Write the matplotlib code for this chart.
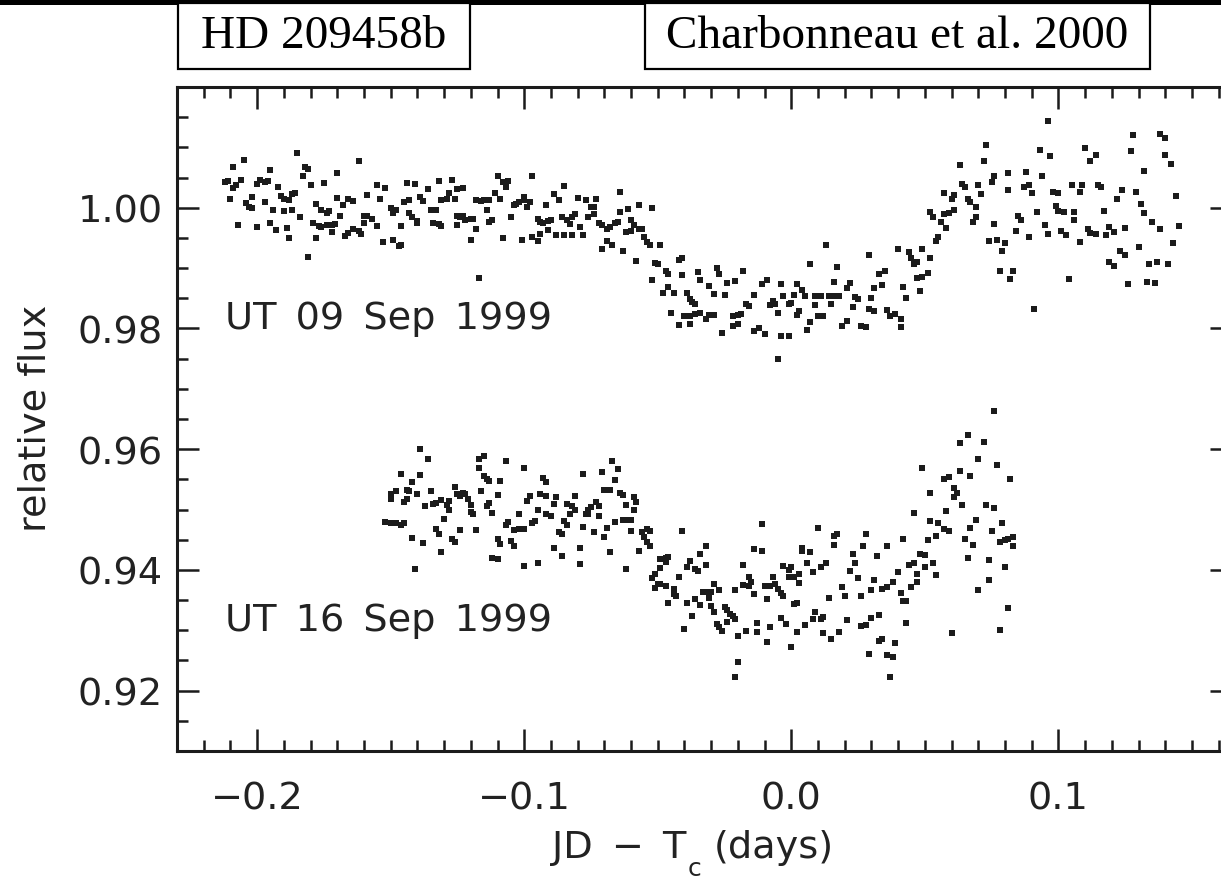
import matplotlib
matplotlib.use("Agg")
import matplotlib.pyplot as plt
from matplotlib.patches import Rectangle
from matplotlib.ticker import MultipleLocator, FuncFormatter

W, H, DPI = 1221, 879, 100
INK = "#1b1b1b"
plt.rcParams["font.family"] = ["DejaVu Sans"]

# Transit light curve of HD 209458, night of UT 09 Sep 1999
sep09_t = [
    -0.185, -0.205, -0.209, -0.162, -0.195, -0.182, -0.181, -0.170, -0.183, -0.212,
    -0.211, -0.206, -0.208, -0.209, -0.200, -0.199, -0.197, -0.196, -0.192, -0.186,
    -0.180, -0.175, -0.210, -0.204, -0.203, -0.202, -0.202, -0.197, -0.191, -0.190,
    -0.188, -0.187, -0.194, -0.190, -0.187, -0.184, -0.178, -0.176, -0.174, -0.173,
    -0.170, -0.168, -0.166, -0.164, -0.169, -0.159, -0.154, -0.155, -0.152, -0.144,
    -0.141, -0.136, -0.132, -0.127, -0.128, -0.125, -0.131, -0.129, -0.126, -0.139,
    -0.138, -0.145, -0.143, -0.150, -0.148, -0.149, -0.135, -0.133, -0.143, -0.142,
    -0.140, -0.140, -0.207, -0.200, -0.195, -0.193, -0.189, -0.188, -0.179, -0.177,
    -0.176, -0.174, -0.172, -0.171, -0.172, -0.178, -0.167, -0.166, -0.164, -0.162,
    -0.161, -0.160, -0.159, -0.157, -0.160, -0.155, -0.146, -0.153, -0.149, -0.147,
    -0.146, -0.181, -0.134, -0.132, -0.131, -0.125, -0.125,
    -0.123, -0.124, -0.123, -0.122, -0.120, -0.119, -0.118, -0.120, -0.117, -0.118,
    -0.116, -0.115, -0.114, -0.113, -0.111, -0.109, -0.110, -0.108, -0.107, -0.106,
    -0.113, -0.112, -0.108, -0.105, -0.104, -0.103, -0.102, -0.100, -0.100, -0.099,
    -0.098, -0.097, -0.092, -0.095, -0.094, -0.093, -0.091, -0.090, -0.094, -0.091,
    -0.088, -0.101, -0.097, -0.095, -0.089, -0.087, -0.085, -0.086, -0.084, -0.083,
    -0.082, -0.081, -0.085, -0.082, -0.079, -0.078, -0.080, -0.077, -0.075, -0.074,
    -0.073, -0.076, -0.074, -0.072, -0.071, -0.069, -0.068, -0.066, -0.065, -0.064,
    -0.064, -0.061, -0.057, -0.052, -0.060, -0.059, -0.062, -0.060, -0.057, -0.056,
    -0.055, -0.054, -0.053, -0.069, -0.067, -0.071, -0.063, -0.058, -0.049, -0.051,
    -0.050, -0.047, -0.046, -0.052, -0.046, -0.048, -0.044, -0.042, -0.041, -0.041,
    -0.035, -0.034, -0.031, -0.039, -0.038, -0.037, -0.036, -0.045, -0.040, -0.038,
    -0.036, -0.034, -0.032, -0.042, -0.038,
    -0.028, -0.027, -0.024, -0.021, -0.018, -0.029, -0.025, -0.031, -0.029, -0.022,
    -0.020, -0.019, -0.016, -0.017, -0.014, -0.011, -0.009, -0.004, -0.003, -0.008,
    -0.007, -0.006, -0.005, -0.001, 0.000, 0.001, 0.002, 0.004, 0.005, 0.007,
    0.009, 0.011, 0.013, 0.014, 0.016, 0.017, 0.017, 0.018, 0.016, 0.021,
    0.022, 0.024, 0.025, 0.009, 0.015, 0.023, 0.003, 0.002, 0.007, 0.010,
    0.012, 0.006, -0.026, -0.022, -0.020, -0.014, -0.012, -0.010, -0.004, -0.001,
    0.019, 0.021, 0.026, 0.028, 0.029, 0.030, 0.031, 0.034, 0.033, 0.035,
    0.029, 0.031, 0.036, 0.037, 0.039, 0.041, 0.041, 0.040, 0.044, 0.045,
    0.046, 0.047, 0.042, 0.043, 0.048, 0.049, 0.052, 0.047, 0.049, 0.051,
    0.054, 0.055, 0.052, 0.053, 0.056, 0.058, 0.057, 0.057, 0.059, 0.060,
    -0.005,
    0.096, 0.073, 0.063, 0.072, 0.093, 0.097, 0.110, 0.114, 0.112, 0.128,
    0.127, 0.138, 0.140, 0.140, 0.142, 0.132, 0.076, 0.075, 0.081, 0.088,
    0.094, 0.064, 0.065, 0.070, 0.061, 0.071, 0.081, 0.087, 0.089, 0.090,
    0.098, 0.100, 0.105, 0.108, 0.109, 0.115, 0.116, 0.124, 0.129, 0.122,
    0.144, 0.066, 0.067, 0.069, 0.061, 0.069, 0.068, 0.076, 0.085, 0.086,
    0.092, 0.099, 0.100, 0.102, 0.106, 0.106, 0.117, 0.131, 0.132, 0.135,
    0.138, 0.145, 0.095, 0.096, 0.084, 0.089, 0.101, 0.103, 0.111, 0.112,
    0.114, 0.118, 0.119, 0.121, 0.125, 0.074, 0.077, 0.080, 0.079, 0.108,
    0.123, 0.125, 0.130, 0.143, 0.119, 0.121, 0.134, 0.137, 0.141, 0.078,
    0.083, 0.082, 0.104, 0.126, 0.133, 0.136, 0.091,
]
sep09_f = [
    1.0091, 1.0079, 1.0068, 1.0077, 1.0062, 1.0068, 1.0064, 1.0057, 1.0052, 1.0042,
    1.0044, 1.0046, 1.0037, 1.0033, 1.0039, 1.0046, 1.0042, 1.0044, 1.0034, 1.0025,
    1.0037, 1.0041, 1.0015, 1.0008, 1.0002, 0.9999, 1.0017, 1.0010, 1.0020, 1.0015,
    1.0013, 1.0022, 0.9997, 0.9994, 0.9996, 0.9984, 1.0006, 0.9997, 0.9992, 0.9994,
    1.0016, 1.0004, 1.0014, 1.0011, 0.9986, 1.0021, 1.0014, 1.0037, 1.0033, 1.0041,
    1.0039, 1.0031, 1.0044, 1.0046, 1.0025, 1.0031, 1.0012, 1.0014, 1.0014, 1.0018,
    1.0011, 1.0010, 1.0012, 0.9999, 0.9996, 0.9992, 0.9996, 0.9996, 0.9991, 0.9985,
    0.9978, 0.9974, 0.9971, 0.9968, 0.9975, 0.9963, 0.9967, 0.9950, 0.9974, 0.9970,
    0.9968, 0.9971, 0.9972, 0.9973, 0.9960, 0.9950, 0.9953, 0.9958, 0.9964, 0.9961,
    0.9956, 0.9986, 0.9986, 0.9981, 0.9975, 0.9969, 0.9969, 0.9943, 0.9946, 0.9936,
    0.9939, 0.9919, 0.9975, 0.9973, 0.9970, 0.9986, 0.9971,
    1.0032, 0.9985, 0.9986, 0.9979, 0.9982, 0.9982, 0.9965, 0.9946, 0.9883, 1.0013,
    1.0011, 1.0013, 0.9997, 1.0013, 1.0024, 1.0015, 1.0052, 1.0043, 1.0034, 1.0045,
    0.9976, 0.9979, 0.9950, 0.9985, 1.0004, 1.0007, 1.0010, 1.0017, 1.0013, 1.0002,
    1.0010, 1.0052, 1.0005, 0.9982, 0.9976, 0.9975, 0.9978, 0.9979, 0.9957, 0.9963,
    0.9954, 0.9947, 0.9952, 0.9945, 1.0022, 1.0012, 1.0036, 0.9985, 0.9979, 0.9973,
    0.9985, 0.9989, 0.9954, 0.9954, 0.9968, 0.9955, 1.0016, 1.0013, 1.0001, 1.0001,
    1.0015, 0.9985, 0.9990, 0.9974, 0.9971, 0.9965, 0.9968, 0.9974, 0.9976, 1.0026,
    0.9993, 0.9998, 1.0004, 0.9999, 0.9979, 0.9971, 0.9960, 0.9961, 0.9965, 0.9965,
    0.9952, 0.9943, 0.9938, 0.9945, 0.9938, 0.9931, 0.9928, 0.9912, 0.9939, 0.9909,
    0.9907, 0.9896, 0.9891, 0.9881, 0.9869, 0.9859, 0.9858, 0.9914, 0.9917, 0.9888,
    0.9893, 0.9880, 0.9871, 0.9858, 0.9849, 0.9844, 0.9840, 0.9826, 0.9820, 0.9820,
    0.9824, 0.9826, 0.9816, 0.9805, 0.9807,
    0.9900, 0.9890, 0.9876, 0.9878, 0.9896, 0.9857, 0.9855, 0.9822, 0.9823, 0.9820,
    0.9823, 0.9824, 0.9837, 0.9840, 0.9855, 0.9874, 0.9881, 0.9874, 0.9853, 0.9839,
    0.9845, 0.9841, 0.9826, 0.9840, 0.9842, 0.9856, 0.9874, 0.9863, 0.9853, 0.9906,
    0.9854, 0.9853, 0.9939, 0.9853, 0.9853, 0.9901, 0.9853, 0.9853, 0.9877, 0.9867,
    0.9875, 0.9852, 0.9848, 0.9839, 0.9840, 0.9835, 0.9829, 0.9823, 0.9811, 0.9820,
    0.9820, 0.9797, 0.9793, 0.9804, 0.9808, 0.9796, 0.9801, 0.9791, 0.9787, 0.9787,
    0.9804, 0.9812, 0.9804, 0.9802, 0.9922, 0.9851, 0.9867, 0.9872, 0.9891, 0.9895,
    0.9833, 0.9829, 0.9831, 0.9820, 0.9824, 0.9816, 0.9803, 0.9932, 0.9927, 0.9917,
    0.9906, 0.9910, 0.9868, 0.9851, 0.9862, 0.9932, 0.9917, 0.9884, 0.9885, 0.9892,
    0.9945, 0.9951, 0.9993, 0.9984, 0.9977, 0.9966, 1.0024, 0.9990, 0.9991, 1.0014,
    0.9750,
    1.0143, 1.0104, 1.0070, 1.0077, 1.0095, 1.0085, 1.0099, 1.0087, 1.0078, 1.0121,
    1.0094, 1.0122, 1.0115, 1.0087, 1.0073, 1.0061, 1.0053, 1.0043, 1.0058, 1.0059,
    1.0053, 1.0040, 1.0034, 1.0037, 1.0021, 1.0023, 1.0030, 1.0035, 1.0038, 1.0024,
    1.0026, 1.0025, 1.0038, 1.0026, 1.0037, 1.0037, 1.0035, 1.0029, 1.0026, 1.0015,
    1.0020, 1.0014, 1.0010, 1.0002, 0.9997, 0.9984, 0.9976, 0.9973, 0.9987, 0.9980,
    0.9993, 1.0003, 0.9994, 0.9993, 0.9993, 0.9979, 0.9995, 1.0006, 0.9992, 0.9977,
    0.9964, 0.9970, 0.9972, 0.9957, 0.9962, 0.9951, 0.9962, 0.9955, 0.9964, 0.9958,
    0.9956, 0.9955, 0.9968, 0.9960, 0.9967, 0.9945, 0.9947, 0.9942, 0.9929, 0.9943,
    0.9929, 0.9922, 0.9935, 0.9941, 0.9910, 0.9903, 0.9907, 0.9910, 0.9907, 0.9896,
    0.9896, 0.9882, 0.9882, 0.9873, 0.9877, 0.9875, 0.9832,
]

# Same star, night of UT 16 Sep 1999 (offset downward for display)
sep16_t = [
    -0.139, -0.136, -0.146, -0.139, -0.142, -0.150, -0.150, -0.148, -0.144, -0.143,
    -0.144, -0.145, -0.140, -0.135, -0.137, -0.134, -0.133, -0.131, -0.129, -0.128,
    -0.128, -0.126, -0.125, -0.124, -0.123, -0.122, -0.121, -0.120, -0.120, -0.119,
    -0.130, -0.133, -0.132, -0.127, -0.126, -0.124, -0.118, -0.152, -0.150, -0.148,
    -0.146, -0.145, -0.142, -0.138, -0.131, -0.141, -0.117, -0.117, -0.115, -0.115,
    -0.114, -0.113, -0.116, -0.110, -0.109, -0.107, -0.100, -0.113, -0.114, -0.112,
    -0.110, -0.109, -0.107, -0.106, -0.105, -0.104, -0.104, -0.102, -0.100, -0.102,
    -0.112, -0.110, -0.100, -0.095, -0.099, -0.098, -0.097, -0.096, -0.094, -0.093,
    -0.092, -0.092, -0.095, -0.092, -0.090, -0.089, -0.088, -0.087, -0.086, -0.089,
    -0.086, -0.084, -0.082, -0.083, -0.081, -0.081, -0.085, -0.084, -0.079, -0.079,
    -0.078, -0.078, -0.077, -0.076,
    -0.071, -0.067, -0.065, -0.066, -0.070, -0.068, -0.064, -0.063, -0.075, -0.073,
    -0.072, -0.076, -0.072, -0.059, -0.058, -0.062, -0.059, -0.074, -0.070, -0.066,
    -0.063, -0.061, -0.060, -0.069, -0.060, -0.054, -0.053, -0.056, -0.055, -0.054,
    -0.053, -0.068, -0.057, -0.062, -0.041, -0.049, -0.047, -0.046, -0.047, -0.049,
    -0.051, -0.052, -0.050, -0.049, -0.047, -0.051, -0.044, -0.044, -0.043, -0.046,
    -0.042, -0.039, -0.038, -0.036, -0.035, -0.034, -0.032, -0.032, -0.011, -0.014,
    -0.011, -0.018, -0.016, -0.015, -0.018, -0.021, -0.016, -0.014, -0.010, -0.008,
    -0.007, -0.006, -0.005, -0.004, -0.003, -0.003, -0.001, -0.001, 0.001, 0.003,
    0.003, 0.004, -0.009, -0.039, -0.036, -0.034, -0.033, -0.031, -0.030, -0.031,
    -0.029, -0.027, -0.030, -0.029, -0.025, -0.024, -0.023, -0.022, -0.021, -0.024,
    -0.028, -0.027, -0.026, -0.037, -0.040, -0.020, -0.017, -0.013, -0.013, -0.009,
    -0.008, -0.004, -0.002, 0.001, 0.002, 0.002, 0.000, -0.020, -0.021,
    0.076, 0.066, 0.063, 0.072, 0.070, 0.049, 0.063, 0.067, 0.057, 0.059,
    0.077, 0.082, 0.061, 0.062, 0.061, 0.052, 0.064, 0.073, 0.076, 0.058,
    0.046, 0.069, 0.052, 0.055, 0.057, 0.059, 0.067, 0.079, 0.075, 0.010,
    0.016, 0.017, 0.016, 0.028, 0.027, 0.036, 0.042, 0.051, 0.054, 0.065,
    0.068, 0.078, 0.080, 0.081, 0.083, 0.083, 0.004, 0.007, 0.000, 0.006,
    0.008, 0.011, 0.013, 0.023, 0.024, 0.022, 0.025, 0.032, 0.048, 0.050,
    0.044, 0.046, 0.047, 0.050, 0.053, 0.054, 0.040, 0.066, 0.074, 0.080,
    0.074, 0.070, 0.019, 0.020, 0.026, 0.031, 0.030, 0.034, 0.036, 0.038,
    0.045, 0.047, 0.041, 0.042, 0.043, 0.014, 0.009, 0.008, 0.011, 0.012,
    0.005, 0.021, 0.026, 0.028, 0.030, 0.033, 0.043, 0.012, 0.015, 0.018,
    0.033, 0.034, 0.039, 0.029, 0.036, 0.038, 0.060, 0.078, 0.081, 0.037,
]
sep16_f = [
    0.9600, 0.9583, 0.9559, 0.9558, 0.9546, 0.9525, 0.9517, 0.9531, 0.9532, 0.9531,
    0.9517, 0.9513, 0.9526, 0.9530, 0.9506, 0.9510, 0.9511, 0.9515, 0.9508, 0.9500,
    0.9514, 0.9537, 0.9526, 0.9522, 0.9528, 0.9526, 0.9517, 0.9508, 0.9496, 0.9492,
    0.9485, 0.9467, 0.9460, 0.9451, 0.9447, 0.9466, 0.9466, 0.9480, 0.9478, 0.9477,
    0.9475, 0.9477, 0.9453, 0.9445, 0.9429, 0.9401, 0.9568, 0.9583, 0.9589, 0.9556,
    0.9550, 0.9547, 0.9531, 0.9524, 0.9548, 0.9581, 0.9568, 0.9511, 0.9506, 0.9495,
    0.9451, 0.9443, 0.9475, 0.9480, 0.9448, 0.9440, 0.9466, 0.9467, 0.9467, 0.9493,
    0.9419, 0.9418, 0.9406, 0.9412, 0.9514, 0.9522, 0.9478, 0.9481, 0.9525, 0.9553,
    0.9545, 0.9522, 0.9500, 0.9492, 0.9489, 0.9509, 0.9520, 0.9463, 0.9459, 0.9437,
    0.9423, 0.9509, 0.9506, 0.9492, 0.9522, 0.9500, 0.9481, 0.9475, 0.9437, 0.9410,
    0.9471, 0.9559, 0.9492, 0.9500,
    0.9563, 0.9580, 0.9567, 0.9549, 0.9533, 0.9533, 0.9528, 0.9524, 0.9504, 0.9512,
    0.9506, 0.9493, 0.9490, 0.9520, 0.9512, 0.9507, 0.9500, 0.9462, 0.9454, 0.9480,
    0.9482, 0.9482, 0.9483, 0.9469, 0.9465, 0.9468, 0.9465, 0.9462, 0.9454, 0.9446,
    0.9440, 0.9429, 0.9432, 0.9402, 0.9464, 0.9418, 0.9419, 0.9421, 0.9413, 0.9403,
    0.9393, 0.9387, 0.9377, 0.9377, 0.9374, 0.9370, 0.9368, 0.9360, 0.9356, 0.9346,
    0.9388, 0.9404, 0.9415, 0.9402, 0.9399, 0.9426, 0.9408, 0.9439, 0.9476, 0.9435,
    0.9432, 0.9408, 0.9389, 0.9380, 0.9375, 0.9366, 0.9374, 0.9360, 0.9374, 0.9374,
    0.9389, 0.9377, 0.9368, 0.9362, 0.9357, 0.9407, 0.9400, 0.9388, 0.9388, 0.9393,
    0.9379, 0.9432, 0.9351, 0.9345, 0.9352, 0.9342, 0.9363, 0.9363, 0.9364, 0.9353,
    0.9377, 0.9366, 0.9340, 0.9331, 0.9338, 0.9333, 0.9327, 0.9323, 0.9319, 0.9314,
    0.9310, 0.9305, 0.9299, 0.9324, 0.9302, 0.9290, 0.9299, 0.9312, 0.9297, 0.9281,
    0.9305, 0.9321, 0.9310, 0.9343, 0.9346, 0.9297, 0.9272, 0.9248, 0.9222,
    0.9663, 0.9623, 0.9610, 0.9612, 0.9583, 0.9568, 0.9564, 0.9555, 0.9551, 0.9554,
    0.9573, 0.9550, 0.9536, 0.9527, 0.9521, 0.9527, 0.9507, 0.9507, 0.9502, 0.9498,
    0.9495, 0.9483, 0.9481, 0.9478, 0.9468, 0.9464, 0.9470, 0.9477, 0.9464, 0.9470,
    0.9457, 0.9460, 0.9442, 0.9460, 0.9439, 0.9440, 0.9452, 0.9449, 0.9457, 0.9452,
    0.9442, 0.9446, 0.9449, 0.9452, 0.9454, 0.9439, 0.9437, 0.9430, 0.9404, 0.9411,
    0.9397, 0.9405, 0.9411, 0.9426, 0.9412, 0.9399, 0.9386, 0.9423, 0.9426, 0.9424,
    0.9408, 0.9411, 0.9393, 0.9405, 0.9412, 0.9391, 0.9397, 0.9419, 0.9416, 0.9405,
    0.9384, 0.9367, 0.9372, 0.9357, 0.9357, 0.9383, 0.9366, 0.9369, 0.9371, 0.9380,
    0.9372, 0.9380, 0.9361, 0.9349, 0.9349, 0.9354, 0.9330, 0.9318, 0.9319, 0.9322,
    0.9308, 0.9317, 0.9307, 0.9308, 0.9321, 0.9325, 0.9312, 0.9296, 0.9286, 0.9297,
    0.9282, 0.9286, 0.9279, 0.9261, 0.9259, 0.9255, 0.9296, 0.9300, 0.9337, 0.9223,
]

EN = "\u2002"
night_labels = [EN.join(["UT", "09", "Sep", "1999"]), EN.join(["UT", "16", "Sep", "1999"])]
label_pos = [(-0.212, 0.980), (-0.212, 0.930)]
y_labelled = [0.92, 0.94, 0.96, 0.98, 1.00]

fig = plt.figure(figsize=(W / DPI, H / DPI), dpi=DPI, facecolor="white")


def frac(l, t, r, b):
    """Pixel box (origin at top-left) -> figure fraction rectangle."""
    return [l / W, 1 - b / H, (r - l) / W, (b - t) / H]


ax = fig.add_axes(frac(177, 88, 1232, 752))
ax.set_xlim(-0.23, 0.165)
ax.set_ylim(0.91, 1.02)

for t, f in ((sep09_t, sep09_f), (sep16_t, sep16_f)):
    ax.plot(t, f, ls="none", marker="s", ms=4.4, mew=0, color=INK)

for txt, (x, y) in zip(night_labels, label_pos):
    ax.text(x, y, txt, fontsize=27.5, color="#222222", va="baseline", ha="left")

for s in ax.spines.values():
    s.set_linewidth(2.2)
    s.set_color(INK)

ax.xaxis.set_major_locator(MultipleLocator(0.1))
ax.xaxis.set_minor_locator(MultipleLocator(0.01))
ax.yaxis.set_major_locator(MultipleLocator(0.02))
ax.yaxis.set_minor_locator(MultipleLocator(0.005))


def fmt_x(v, _):
    if abs(v) < 1e-9:
        return "0.0"
    return f"{v:.1f}".replace("-", "\u2212")


def fmt_y(v, _):
    return f"{v:.2f}" if any(abs(v - u) < 1e-6 for u in y_labelled) else ""


ax.xaxis.set_major_formatter(FuncFormatter(fmt_x))
ax.yaxis.set_major_formatter(FuncFormatter(fmt_y))
ax.tick_params(which="both", direction="in", top=True, right=True,
               color=INK, width=1.8, labelsize=27.5, labelcolor="#222222")
ax.tick_params(which="major", length=16)
ax.tick_params(which="minor", length=8)
ax.tick_params(axis="x", which="major", pad=21)
ax.tick_params(axis="y", which="major", pad=10)

# y-axis title
fig.text(36 / W, 1 - 418 / H, "relative flux", rotation=90,
         ha="center", va="center", fontsize=27.5, color="#222222")

# x-axis title with a lowered subscript "c"
renderer = fig.canvas.get_renderer()
x0 = 552
y_main = 1 - 848 / H
t1 = fig.text(x0 / W, y_main, f"JD{EN}\u2212{EN}T", fontsize=27.5, color="#222222",
              ha="left", va="center")
w1 = t1.get_window_extent(renderer).width
tc = fig.text((x0 + w1 + 1) / W, 1 - 869 / H, "c", fontsize=18, color="#222222",
              ha="left", va="center")
wc = tc.get_window_extent(renderer).width
fig.text((x0 + w1 + wc + 14) / W, y_main, "(days)", fontsize=27.5, color="#222222",
         ha="left", va="center")

# header band with the two caption boxes
fig.add_artist(Rectangle((0, 1 - 6 / H), 1, 6 / H, transform=fig.transFigure,
                         facecolor="black", edgecolor="none", zorder=5))
for (l, t, r, b), txt in (((178, 4, 470, 70), "HD 209458b"),
                          ((645, 4, 1150, 70), "Charbonneau et al. 2000")):
    fig.add_artist(Rectangle((l / W, 1 - b / H), (r - l) / W, (b - t) / H,
                             transform=fig.transFigure, facecolor="white",
                             edgecolor="black", linewidth=1.6, zorder=6))
    fig.text((l + r) / 2 / W, 1 - (t + b) / 2 / H, txt, family="Liberation Serif",
             fontsize=34, color="black", ha="center", va="center", zorder=7)

fig.savefig("out.png", dpi=DPI, facecolor="white")
